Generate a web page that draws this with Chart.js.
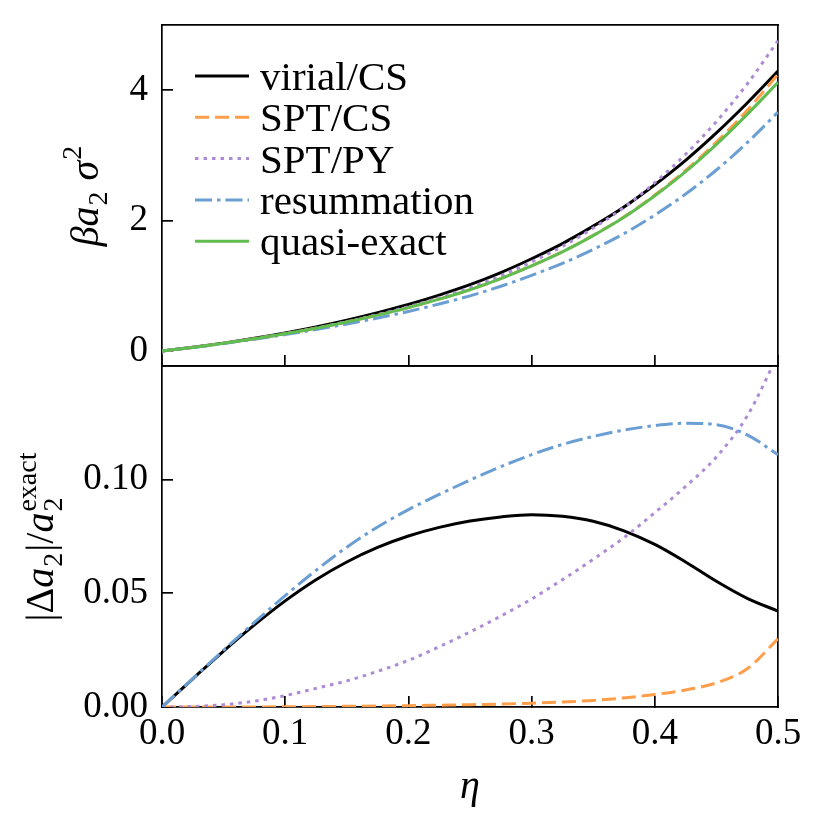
<!DOCTYPE html>
<html>
<head>
<meta charset="utf-8">
<script src="https://cdn.jsdelivr.net/npm/chart.js@4.4.1/dist/chart.umd.min.js"></script>
<style>
    html, body { margin: 0; padding: 0; background: #fff; }
    #wrap { position: relative; width: 829px; height: 829px; }
    #topChart { position: absolute; left: 0; top: 0; }
    #bottomChart { position: absolute; left: 0; top: 340px; }
</style>
</head>
<body>
<div id="wrap">
    <canvas id="topChart" width="829" height="370"></canvas>
    <canvas id="bottomChart" width="829" height="489"></canvas>
</div>
<script>
// packing fraction grid
const eta = [0, 0.025, 0.05, 0.075, 0.1, 0.125, 0.15, 0.175, 0.2, 0.225, 0.25,
    0.275, 0.3, 0.325, 0.35, 0.375, 0.4, 0.425, 0.45, 0.475, 0.5];

// top panel: beta a2 sigma^2
const a2Virial = [0, 0.056, 0.121, 0.195, 0.2775, 0.3696, 0.4733, 0.5885, 0.715, 0.858, 1.017,
    1.203, 1.415, 1.648, 1.915, 2.209, 2.55, 2.925, 3.345, 3.804, 4.294];
const a2SptCs = [0, 0.055, 0.118, 0.188, 0.265, 0.35, 0.445, 0.55, 0.665, 0.796, 0.941,
    1.111, 1.307, 1.523, 1.775, 2.058, 2.393, 2.771, 3.204, 3.691, 4.244];
const a2SptPy = [0, 0.055, 0.118, 0.1885, 0.266, 0.353, 0.45, 0.559, 0.679, 0.816, 0.971,
    1.154, 1.367, 1.605, 1.885, 2.203, 2.583, 3.017, 3.519, 4.095, 4.759];
const a2Resum = [0, 0.0543, 0.115, 0.181, 0.252, 0.329, 0.414, 0.506, 0.607, 0.721, 0.846,
    0.993, 1.16, 1.344, 1.559, 1.8, 2.085, 2.407, 2.776, 3.195, 3.663];
const a2Exact = [0, 0.055, 0.118, 0.188, 0.265, 0.35, 0.445, 0.55, 0.665, 0.795, 0.94,
    1.11, 1.305, 1.52, 1.77, 2.05, 2.38, 2.75, 3.17, 3.63, 4.12];

// bottom panel: |delta a2| / a2_exact
const errVirial = [0, 0.0124, 0.0246, 0.0361, 0.0467, 0.056, 0.0638, 0.0702, 0.0752, 0.079, 0.0818,
    0.0836, 0.0846, 0.0839, 0.0817, 0.0775, 0.0715, 0.0638, 0.0553, 0.0478, 0.0422];
const errSptCs = [0, 0, 0, 0, 0.0001, 0.0002, 0.0003, 0.0004, 0.0006, 0.0008, 0.001,
    0.0013, 0.0017, 0.0022, 0.0029, 0.004, 0.0055, 0.0075, 0.0106, 0.0168, 0.03];
const errSptPy = [0, 0.0002, 0.001, 0.0026, 0.005, 0.0082, 0.0115, 0.0157, 0.0205, 0.0265, 0.033,
    0.04, 0.0475, 0.056, 0.065, 0.0745, 0.0855, 0.097, 0.11, 0.128, 0.155];
const errResum = [0, 0.0125, 0.025, 0.0372, 0.049, 0.0601, 0.0703, 0.0792, 0.0868, 0.0935, 0.0998,
    0.1057, 0.111, 0.1155, 0.119, 0.1218, 0.1238, 0.1248, 0.1242, 0.1197, 0.111];

const etaTicks = [0, 0.1, 0.2, 0.3, 0.4, 0.5];
const topTicks = [0, 2, 4];
const bottomTicks = [0, 0.05, 0.1];

const serif = "'Liberation Serif', 'DejaVu Serif', serif";
Chart.defaults.font.family = serif;
Chart.defaults.color = '#000';

const styles = {
    virial: { color: '#000000', dash: [] },
    sptCs: { color: '#ff9e4a', dash: [14, 6] },
    sptPy: { color: '#ad8bd5', dash: [3.5, 5] },
    resum: { color: '#6b9fd3', dash: [17, 5, 3.5, 5] },
    exact: { color: '#62bd50', dash: [] }
};

function toPoints(ys) {
    return eta.map((x, i) => ({ x: x, y: ys[i] }));
}

function lineSet(label, ys, style, order) {
    return {
        label: label,
        data: toPoints(ys),
        borderColor: style.color,
        borderDash: style.dash,
        borderWidth: 3,
        borderCapStyle: 'butt',
        pointRadius: 0,
        fill: false,
        cubicInterpolationMode: 'monotone',
        order: order,
        xAxisID: 'x',
        yAxisID: 'y'
    };
}

const axisLine = { color: '#000', width: 1.7 };
const inwardGrid = { drawOnChartArea: false, tickLength: -11, tickWidth: 1.7, tickColor: '#000', lineWidth: 1.7 };
const plainGrid = { drawOnChartArea: false, drawTicks: false };

// fixed axis size, no label overflow padding
function fixSize(w, h) {
    return s => {
        if (w !== null) s.width = w;
        if (h !== null) s.height = h;
        s.paddingTop = 0; s.paddingBottom = 0; s.paddingLeft = 0; s.paddingRight = 0;
    };
}

function frameScales() {
    return {
        xTop: {
            type: 'linear', position: 'top', min: 0, max: 0.5,
            ticks: { display: false }, grid: plainGrid, border: axisLine,
            afterFit: fixSize(null, 0)
        },
        yRight: {
            type: 'linear', position: 'right', min: 0, max: 1,
            ticks: { display: false }, grid: plainGrid, border: axisLine,
            afterFit: fixSize(0, null)
        }
    };
}

// draw a rotated axis title made of runs with sub/superscripts
function drawRotatedTitle(ctx, runs, baseX, centerY, size) {
    const small = Math.round(size * 0.7);
    const fontOf = (sz, it) => (it ? 'italic ' : '') + sz + 'px ' + serif;
    let total = 0;
    const widths = runs.map(r => {
        ctx.font = fontOf(size, r.it);
        let w = ctx.measureText(r.t).width;
        ctx.font = fontOf(small, false);
        const subW = r.sub ? ctx.measureText(r.sub).width : 0;
        const supW = r.sup ? ctx.measureText(r.sup).width : 0;
        const adv = w + Math.max(subW, supW) + (r.sub || r.sup ? 2 : 0);
        total += adv;
        return { w, adv };
    });
    ctx.save();
    ctx.translate(baseX, centerY);
    ctx.rotate(-Math.PI / 2);
    ctx.fillStyle = '#000';
    ctx.textBaseline = 'alphabetic';
    let x = -total / 2;
    runs.forEach((r, i) => {
        ctx.font = fontOf(size, r.it);
        ctx.fillText(r.t, x, 0);
        ctx.font = fontOf(small, false);
        if (r.sub) ctx.fillText(r.sub, x + widths[i].w + 1, size * 0.22);
        if (r.sup) ctx.fillText(r.sup, x + widths[i].w + 1, -size * 0.42);
        x += widths[i].adv;
    });
    ctx.restore();
}

const topTitle = {
    id: 'topTitle',
    afterDraw(chart) {
        const a = chart.chartArea;
        drawRotatedTitle(chart.ctx, [
            { t: 'β', it: true }, { t: 'a', it: true, sub: '2' }, { t: ' ' }, { t: 'σ', it: true, sup: '2' }
        ], 98, (a.top + a.bottom) / 2, 40);
    }
};

const bottomTitle = {
    id: 'bottomTitle',
    afterDraw(chart) {
        const a = chart.chartArea;
        drawRotatedTitle(chart.ctx, [
            { t: '|Δ' }, { t: 'a', it: true, sub: '2' }, { t: '|/' }, { t: 'a', it: true, sub: '2', sup: 'exact' }
        ], 53, (a.top + a.bottom) / 2, 40);
    }
};

// legend drawn inside the upper panel
const insideLegend = {
    id: 'insideLegend',
    afterDatasetsDraw(chart) {
        const { ctx, chartArea } = chart;
        ctx.save();
        ctx.font = '41px ' + serif;
        ctx.textBaseline = 'alphabetic';
        chart.data.datasets.forEach((ds, i) => {
            const y = chartArea.top + 51 + i * 41.3;
            const x0 = chartArea.left + 33;
            ctx.beginPath();
            ctx.setLineDash(ds.borderDash);
            ctx.strokeStyle = ds.borderColor;
            ctx.lineWidth = ds.borderWidth;
            ctx.moveTo(x0, y);
            ctx.lineTo(x0 + 54, y);
            ctx.stroke();
            ctx.setLineDash([]);
            ctx.fillStyle = '#000';
            ctx.fillText(ds.label, chartArea.left + 98, y + 14);
        });
        ctx.restore();
    }
};

new Chart(document.getElementById('topChart'), {
    type: 'line',
    data: {
        datasets: [
            lineSet('virial/CS', a2Virial, styles.virial, 4),
            lineSet('SPT/CS', a2SptCs, styles.sptCs, 3),
            lineSet('SPT/PY', a2SptPy, styles.sptPy, 2),
            lineSet('resummation', a2Resum, styles.resum, 1),
            lineSet('quasi-exact', a2Exact, styles.exact, 0)
        ]
    },
    options: {
        responsive: false,
        animation: false,
        layout: { padding: { top: 25, right: 51, bottom: 0, left: 0 } },
        scales: Object.assign({
            x: {
                type: 'linear', position: 'bottom', min: 0, max: 0.5,
                afterBuildTicks: s => { s.ticks = etaTicks.map(v => ({ value: v })); },
                afterFit: fixSize(null, 4),
                ticks: { display: false },
                grid: inwardGrid,
                border: axisLine
            },
            y: {
                type: 'linear', position: 'left', min: -0.23, max: 5.0,
                afterBuildTicks: s => { s.ticks = topTicks.map(v => ({ value: v })); },
                afterFit: fixSize(162, null),
                ticks: { padding: 25, font: { size: 37 }, callback: v => String(v) },
                grid: inwardGrid,
                border: axisLine
            }
        }, frameScales()),
        plugins: {
            legend: { display: false },
            tooltip: { enabled: false }
        }
    },
    plugins: [insideLegend, topTitle]
});

new Chart(document.getElementById('bottomChart'), {
    type: 'line',
    data: {
        datasets: [
            lineSet('virial/CS', errVirial, styles.virial, 3),
            lineSet('SPT/CS', errSptCs, styles.sptCs, 2),
            lineSet('SPT/PY', errSptPy, styles.sptPy, 1),
            lineSet('resummation', errResum, styles.resum, 0)
        ]
    },
    options: {
        responsive: false,
        animation: false,
        layout: { padding: { top: 26, right: 51, bottom: 0, left: 0 } },
        scales: Object.assign({
            x: {
                type: 'linear', position: 'bottom', min: 0, max: 0.5,
                afterBuildTicks: s => { s.ticks = etaTicks.map(v => ({ value: v })); },
                afterFit: fixSize(null, 122),
                ticks: { padding: 16, font: { size: 37 }, callback: v => v.toFixed(1) },
                grid: inwardGrid,
                border: axisLine,
                title: {
                    display: true, text: 'η',
                    font: { size: 40, style: 'italic' },
                    padding: { top: 0, bottom: 18 }
                }
            },
            y: {
                type: 'linear', position: 'left', min: 0, max: 0.15,
                afterBuildTicks: s => { s.ticks = bottomTicks.map(v => ({ value: v })); },
                afterFit: fixSize(162, null),
                ticks: { padding: 25, font: { size: 37 }, callback: v => v.toFixed(2) },
                grid: inwardGrid,
                border: axisLine
            }
        }, frameScales()),
        plugins: {
            legend: { display: false },
            tooltip: { enabled: false }
        }
    },
    plugins: [bottomTitle]
});
</script>
</body>
</html>
